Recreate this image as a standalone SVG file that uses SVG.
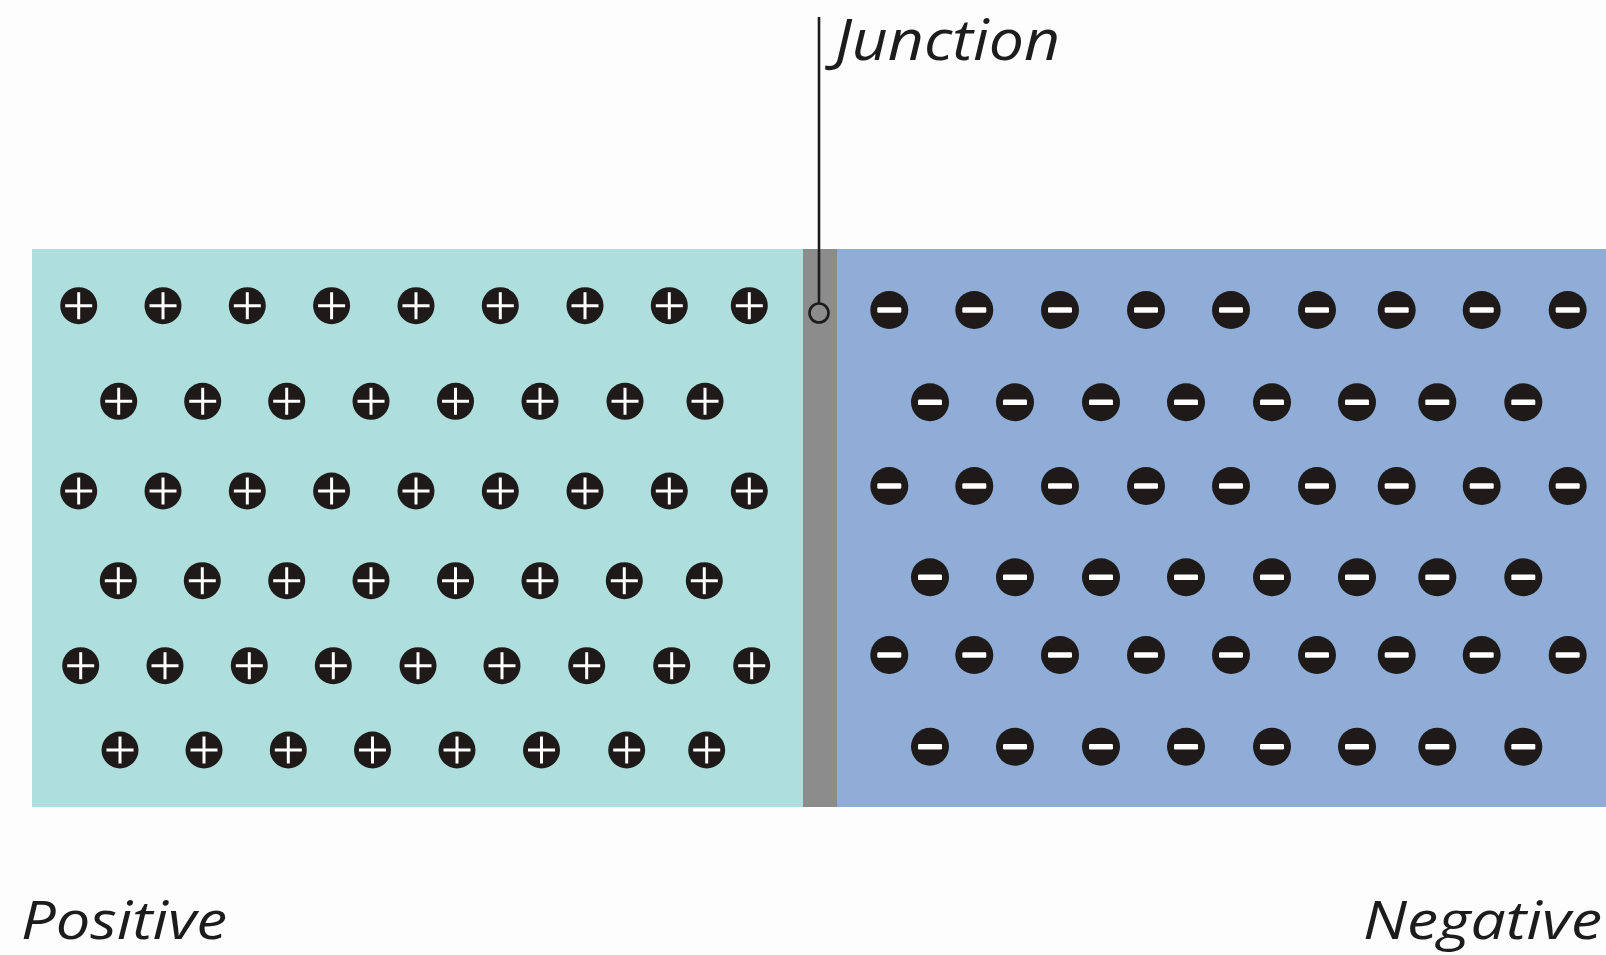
<svg xmlns="http://www.w3.org/2000/svg" xmlns:xlink="http://www.w3.org/1999/xlink" width="1606" height="955" viewBox="0 0 1606 955">
  <style>
    .label { font-family: "Open Sans", "Noto Sans", "Liberation Sans", sans-serif; font-style: italic; font-size: 56px; fill: #1c1c1c; }
    .label.side { font-size: 53px; }
    .ion { fill: #1e1a1a; }
    .mark { stroke: #ffffff; stroke-width: 3; fill: none; }
    .bar { fill: #ffffff; }
    .lead { stroke: #1c1c1c; stroke-width: 2.6; fill: none; }
  </style>
  <defs>
    <!-- positive ion: dark disc with a white cross -->
    <g id="pos">
      <circle class="ion" r="18.5"/>
      <path class="mark" d="M-13.5 0H13.5M0 -13.5V13.5"/>
    </g>
    <!-- negative ion: dark disc with a white bar -->
    <g id="neg">
      <circle class="ion" r="19"/>
      <rect class="bar" x="-12" y="-2.8" width="24" height="5.6" rx="1.2"/>
    </g>
  </defs>

  <rect width="1606" height="955" fill="#fdfdfd"/>

  <!-- p-type side -->
  <g id="p-region">
    <rect x="32" y="249" width="771" height="558" fill="#aedfdd"/>
    <g id="p-ions">
      <use href="#pos" x="78.7" y="305.7"/><use href="#pos" x="163" y="305.7"/><use href="#pos" x="247.3" y="305.7"/>
      <use href="#pos" x="331.6" y="305.7"/><use href="#pos" x="416" y="305.7"/><use href="#pos" x="500.3" y="305.7"/>
      <use href="#pos" x="585" y="305.7"/><use href="#pos" x="669.3" y="305.7"/><use href="#pos" x="749.3" y="305.7"/>

      <use href="#pos" x="118.7" y="401.3"/><use href="#pos" x="202.7" y="401.3"/><use href="#pos" x="286.7" y="401.3"/>
      <use href="#pos" x="371" y="401.3"/><use href="#pos" x="455.5" y="401.3"/><use href="#pos" x="540" y="401.3"/>
      <use href="#pos" x="625" y="401.3"/><use href="#pos" x="705" y="401.3"/>

      <use href="#pos" x="78.7" y="491"/><use href="#pos" x="163" y="491"/><use href="#pos" x="247.3" y="491"/>
      <use href="#pos" x="331.6" y="491"/><use href="#pos" x="416" y="491"/><use href="#pos" x="500.3" y="491"/>
      <use href="#pos" x="585" y="491"/><use href="#pos" x="669.3" y="491"/><use href="#pos" x="749.3" y="491"/>

      <use href="#pos" x="118.3" y="580.7"/><use href="#pos" x="202.3" y="580.7"/><use href="#pos" x="286.7" y="580.7"/>
      <use href="#pos" x="371" y="580.7"/><use href="#pos" x="455.5" y="580.7"/><use href="#pos" x="540" y="580.7"/>
      <use href="#pos" x="624.3" y="580.7"/><use href="#pos" x="704.3" y="580.7"/>

      <use href="#pos" x="80.7" y="665.7"/><use href="#pos" x="165" y="665.7"/><use href="#pos" x="249.3" y="665.7"/>
      <use href="#pos" x="333.3" y="665.7"/><use href="#pos" x="418" y="665.7"/><use href="#pos" x="502" y="665.7"/>
      <use href="#pos" x="586.7" y="665.7"/><use href="#pos" x="671.7" y="665.7"/><use href="#pos" x="751.7" y="665.7"/>

      <use href="#pos" x="120" y="750"/><use href="#pos" x="204" y="750"/><use href="#pos" x="288.3" y="750"/>
      <use href="#pos" x="372.5" y="750"/><use href="#pos" x="457" y="750"/><use href="#pos" x="541.5" y="750"/>
      <use href="#pos" x="626.7" y="750"/><use href="#pos" x="706.7" y="750"/>
    </g>
  </g>

  <!-- n-type side -->
  <g id="n-region">
    <rect x="837" y="249" width="769" height="558" fill="#8fadd6"/>
    <g id="n-ions">
      <use href="#neg" x="889.3" y="310"/><use href="#neg" x="974.3" y="310"/><use href="#neg" x="1060" y="310"/>
      <use href="#neg" x="1146" y="310"/><use href="#neg" x="1231" y="310"/><use href="#neg" x="1317" y="310"/>
      <use href="#neg" x="1396.7" y="310"/><use href="#neg" x="1481.7" y="310"/><use href="#neg" x="1567.7" y="310"/>

      <use href="#neg" x="930" y="402.3"/><use href="#neg" x="1015" y="402.3"/><use href="#neg" x="1101" y="402.3"/>
      <use href="#neg" x="1186" y="402.3"/><use href="#neg" x="1272" y="402.3"/><use href="#neg" x="1357" y="402.3"/>
      <use href="#neg" x="1437.3" y="402.3"/><use href="#neg" x="1523.3" y="402.3"/>

      <use href="#neg" x="889.3" y="486"/><use href="#neg" x="974.3" y="486"/><use href="#neg" x="1060" y="486"/>
      <use href="#neg" x="1146" y="486"/><use href="#neg" x="1231" y="486"/><use href="#neg" x="1317" y="486"/>
      <use href="#neg" x="1396.7" y="486"/><use href="#neg" x="1481.7" y="486"/><use href="#neg" x="1567.7" y="486"/>

      <use href="#neg" x="930" y="577.3"/><use href="#neg" x="1015" y="577.3"/><use href="#neg" x="1101" y="577.3"/>
      <use href="#neg" x="1186" y="577.3"/><use href="#neg" x="1272" y="577.3"/><use href="#neg" x="1357" y="577.3"/>
      <use href="#neg" x="1437.3" y="577.3"/><use href="#neg" x="1523.3" y="577.3"/>

      <use href="#neg" x="889.3" y="655"/><use href="#neg" x="974.3" y="655"/><use href="#neg" x="1060" y="655"/>
      <use href="#neg" x="1146" y="655"/><use href="#neg" x="1231" y="655"/><use href="#neg" x="1317" y="655"/>
      <use href="#neg" x="1396.7" y="655"/><use href="#neg" x="1481.7" y="655"/><use href="#neg" x="1567.7" y="655"/>

      <use href="#neg" x="930" y="746.7"/><use href="#neg" x="1015" y="746.7"/><use href="#neg" x="1101" y="746.7"/>
      <use href="#neg" x="1186" y="746.7"/><use href="#neg" x="1272" y="746.7"/><use href="#neg" x="1357" y="746.7"/>
      <use href="#neg" x="1437.3" y="746.7"/><use href="#neg" x="1523.3" y="746.7"/>
    </g>
  </g>

  <!-- junction layer between the two sides -->
  <g id="junction">
    <rect x="803" y="249" width="34" height="558" fill="#8c8c8c"/>
  </g>

  <!-- leader from the label down to the junction -->
  <g id="connectors">
    <line class="lead" x1="819" y1="17" x2="819" y2="303"/>
    <circle class="lead" cx="819" cy="313" r="9.5" fill="#8c8c8c"/>
  </g>

  <g id="labels">
    <text class="label" x="835" y="60" textLength="225" lengthAdjust="spacingAndGlyphs">Junction</text>
    <text class="label side" x="21" y="939" textLength="206" lengthAdjust="spacingAndGlyphs">Positive</text>
    <text class="label side" x="1363" y="939" textLength="239" lengthAdjust="spacingAndGlyphs">Negative</text>
  </g>
</svg>
